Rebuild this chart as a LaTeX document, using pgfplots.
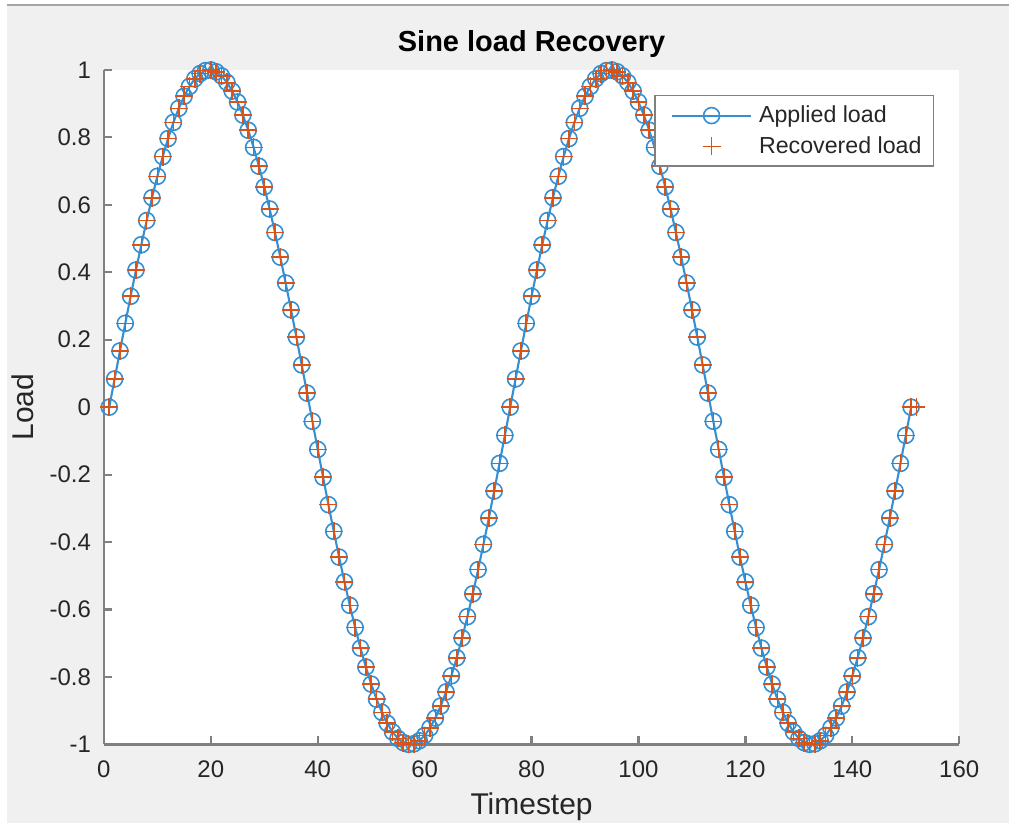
\documentclass[border=0pt]{standalone}
\usepackage{fontspec}
\setmainfont{Liberation Sans}
\usepackage{pgfplots}
\usepackage{pgfplotstable}
\pgfplotsset{compat=1.18}
\definecolor{figbg}{HTML}{F0F0F0}
\definecolor{mblue}{HTML}{3590D3}
\definecolor{morange}{HTML}{D95319}
\definecolor{axgray}{HTML}{808080}
\definecolor{txt}{HTML}{262626}
\pgfplotsset{
  lineleg/.style={legend image code/.code={\draw[mark repeat=2,mark phase=2,##1] plot coordinates {(0pt,0pt)(19.75pt,0pt)(39.5pt,0pt)};\path (-4pt,0pt) (41pt,0pt);}},
  markleg/.style={legend image code/.code={\draw[##1,only marks] plot coordinates {(19.75pt,0pt)};\path (-4pt,0pt) (41pt,0pt);}},
}

\pgfplotstableread{
t y
1 0
2 0.08368
3 0.16677
4 0.24869
5 0.32887
6 0.40674
7 0.48175
8 0.55339
9 0.62115
10 0.68455
11 0.74314
12 0.79653
13 0.84433
14 0.88620
15 0.92186
16 0.95106
17 0.97358
18 0.98927
19 0.99803
20 0.99978
21 0.99452
22 0.98229
23 0.96316
24 0.93728
25 0.90483
26 0.86603
27 0.82115
28 0.77051
29 0.71447
30 0.65342
31 0.58779
32 0.51803
33 0.44464
34 0.36812
35 0.28903
36 0.20791
37 0.12533
38 0.04188
39 -0.04188
40 -0.12533
41 -0.20791
42 -0.28903
43 -0.36812
44 -0.44464
45 -0.51803
46 -0.58779
47 -0.65342
48 -0.71447
49 -0.77051
50 -0.82115
51 -0.86603
52 -0.90483
53 -0.93728
54 -0.96316
55 -0.98229
56 -0.99452
57 -0.99978
58 -0.99803
59 -0.98927
60 -0.97358
61 -0.95106
62 -0.92186
63 -0.88620
64 -0.84433
65 -0.79653
66 -0.74314
67 -0.68455
68 -0.62115
69 -0.55339
70 -0.48175
71 -0.40674
72 -0.32887
73 -0.24869
74 -0.16677
75 -0.08368
76 0
77 0.08368
78 0.16677
79 0.24869
80 0.32887
81 0.40674
82 0.48175
83 0.55339
84 0.62115
85 0.68455
86 0.74314
87 0.79653
88 0.84433
89 0.88620
90 0.92186
91 0.95106
92 0.97358
93 0.98927
94 0.99803
95 0.99978
96 0.99452
97 0.98229
98 0.96316
99 0.93728
100 0.90483
101 0.86603
102 0.82115
103 0.77051
104 0.71447
105 0.65342
106 0.58779
107 0.51803
108 0.44464
109 0.36812
110 0.28903
111 0.20791
112 0.12533
113 0.04188
114 -0.04188
115 -0.12533
116 -0.20791
117 -0.28903
118 -0.36812
119 -0.44464
120 -0.51803
121 -0.58779
122 -0.65342
123 -0.71447
124 -0.77051
125 -0.82115
126 -0.86603
127 -0.90483
128 -0.93728
129 -0.96316
130 -0.98229
131 -0.99452
132 -0.99978
133 -0.99803
134 -0.98927
135 -0.97358
136 -0.95106
137 -0.92186
138 -0.88620
139 -0.84433
140 -0.79653
141 -0.74314
142 -0.68455
143 -0.62115
144 -0.55339
145 -0.48175
146 -0.40674
147 -0.32887
148 -0.24869
149 -0.16677
150 -0.08368
151 0
}\applied

\begin{document}
\begin{tikzpicture}
\fill[figbg] (-52pt,-39.5pt) rectangle (453pt,372.5pt);
\fill[white] (-52pt,-39.5pt) rectangle (-48.5pt,372.5pt);
\fill[white] (-52pt,370.5pt) rectangle (453pt,372.5pt);
\draw[gray!70, line width=0.8pt] (-48.5pt,370pt) -- (453pt,370pt);
\begin{axis}[
  scale only axis, width=428pt, height=337.5pt,
  xmin=0, xmax=160, ymin=-1, ymax=1,
  clip=false,
  axis x line*=bottom, axis y line*=left,
  axis background/.style={fill=white},
  axis line style={axgray, line width=1.1pt},
  tick align=inside, major tick length=4pt,
  tick style={axgray, line width=1.1pt},
  xtick={0,20,40,60,80,100,120,140,160},
  xticklabels={0,20,40,60,80,100,120,140,160},
  ytick={-1,-0.8,-0.6,-0.4,-0.2,0,0.2,0.4,0.6,0.8,1},
  yticklabels={-1,-0.8,-0.6,-0.4,-0.2,0,0.2,0.4,0.6,0.8,1},
  ticklabel style={font=\fontsize{12}{14}\selectfont, text=txt},
  xticklabel style={yshift=-4.5pt},
  yticklabel style={xshift=-3pt},
  every axis title shift=0pt,
  title={Sine load Recovery},
  title style={at={(rel axis cs:0.5,1.0267)}, anchor=base, font=\fontsize{14.5}{17}\selectfont\bfseries, text=black},
  xlabel={Timestep},
  xlabel style={at={(rel axis cs:0.5,-0.1037)}, anchor=base, font=\fontsize{15}{18}\selectfont, text=txt},
  ylabel={Load},
  ylabel style={at={(rel axis cs:-0.0829,0.5)}, anchor=base, font=\fontsize{15}{18}\selectfont, text=txt},
  legend cell align=left,
  legend style={at={(rel axis cs:0.9708,0.963)}, anchor=north east, draw=axgray, line width=0.8pt, fill=white,
    font=\fontsize{11.6}{14}\selectfont, text=txt, inner xsep=4pt, inner ysep=3pt, row sep=1.5pt},
]
\addplot[color=mblue, line width=1.05pt, mark=o, mark size=4pt, mark options={line width=0.8pt}, lineleg]
  table[x=t,y=y]{\applied};
\addlegendentry{Applied load}
\addplot[only marks, color=morange, mark=+, mark size=4.5pt, mark options={line width=0.8pt}, markleg]
  table[x=t,y=y]{\applied};
\addlegendentry{Recovered load}
\addplot[forget plot, only marks, color=morange, mark=+, mark size=4.5pt, mark options={line width=0.8pt}] coordinates {(152,0)};
\end{axis}
\end{tikzpicture}
\end{document}
